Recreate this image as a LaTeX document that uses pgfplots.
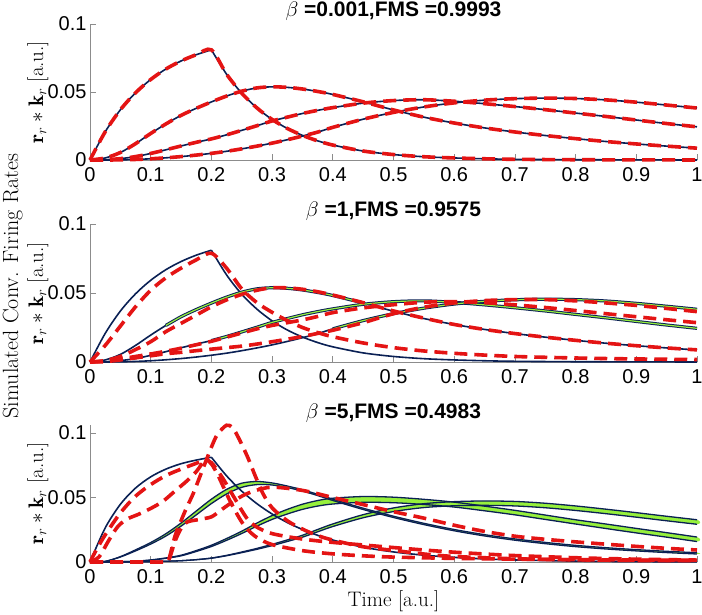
\RequirePackage{fix-cm}
\documentclass[border=0pt]{standalone}
\usepackage{fontspec}
\newfontfamily\helv{Liberation Sans}
\usepackage{pgfplots}
\usepackage{pgfplotstable}
\pgfplotsset{compat=1.18}
\definecolor{axgray}{RGB}{140,140,140}
\definecolor{navy}{RGB}{10,32,84}
\definecolor{rred}{RGB}{228,20,20}
\definecolor{lime}{RGB}{150,240,60}

% ---------- panels 1 and 2: simulated (blue) ----------
\pgfplotstableread{
t v
0 0
0.025 0.0207
0.05 0.0369
0.075 0.0494
0.1 0.0592
0.125 0.0669
0.15 0.0728
0.175 0.0774
0.2 0.0810
0.225 0.0631
0.25 0.0491
0.275 0.0383
0.3 0.0298
0.325 0.0232
0.35 0.0181
0.375 0.0141
0.4 0.0110
0.45 0.0066
0.5 0.0040
0.55 0.0024
0.6 0.0015
0.65 0.0009
0.7 0.0005
0.8 0.0002
0.9 0.0001
1.0 0.0000
}\bOne

\pgfplotstableread{
t b2 b3 b4
0 0 0 0
0.025 0.0015 0.0002 0
0.05 0.0055 0.0010 0.0001
0.075 0.0120 0.0025 0.0004
0.1 0.0195 0.0048 0.0009
0.125 0.0265 0.0075 0.0016
0.15 0.0328 0.0103 0.0025
0.175 0.0380 0.0130 0.0036
0.2 0.0427 0.0155 0.0049
0.225 0.0470 0.0185 0.0064
0.25 0.0506 0.0218 0.0082
0.275 0.0530 0.0252 0.0102
0.3 0.0538 0.0287 0.0124
0.325 0.0534 0.0315 0.0149
0.35 0.0522 0.0342 0.0176
0.375 0.0504 0.0365 0.0205
0.4 0.0482 0.0385 0.0240
0.45 0.0428 0.0418 0.0300
0.5 0.0368 0.0437 0.0350
0.55 0.0315 0.0443 0.0390
0.6 0.0272 0.0432 0.0420
0.65 0.0236 0.0414 0.0440
0.7 0.0206 0.0393 0.0451
0.75 0.0180 0.0370 0.0455
0.8 0.0157 0.0345 0.0452
0.85 0.0136 0.0320 0.0442
0.9 0.0118 0.0294 0.0425
0.95 0.0102 0.0268 0.0404
1.0 0.0087 0.0244 0.0382
}\bMain

% ---------- panel 2: measured (red) ----------
\pgfplotstableread{
t r1 r2 r3 r4
0 0 0 0 0
0.025 0.012 0.001 0.0007 0.0003
0.05 0.026 0.004 0.0022 0.0015
0.075 0.040 0.009 0.0040 0.0030
0.1 0.052 0.0147 0.0058 0.0045
0.125 0.061 0.022 0.0078 0.0060
0.15 0.068 0.028 0.0100 0.0070
0.175 0.074 0.034 0.0125 0.0082
0.2 0.0788 0.040 0.0150 0.0093
0.225 0.068 0.045 0.0180 0.0104
0.25 0.053 0.049 0.0210 0.0115
0.275 0.043 0.052 0.0240 0.0130
0.3 0.036 0.0538 0.0265 0.0147
0.325 0.030 0.0537 0.0285 0.0165
0.35 0.0250 0.0527 0.0305 0.0185
0.375 0.0213 0.0509 0.0330 0.0207
0.4 0.0183 0.0485 0.0358 0.0230
0.45 0.0138 0.0430 0.0392 0.0285
0.5 0.0104 0.0370 0.0415 0.0350
0.55 0.0080 0.0318 0.0433 0.0397
0.6 0.0063 0.0272 0.0438 0.0428
0.65 0.0050 0.0236 0.0430 0.0445
0.7 0.0040 0.0206 0.0414 0.0452
0.75 0.0034 0.0180 0.0395 0.0452
0.8 0.0029 0.0157 0.0373 0.0443
0.85 0.0025 0.0136 0.0350 0.0428
0.9 0.0022 0.0118 0.0328 0.0410
0.95 0.0020 0.0102 0.0306 0.0388
1.0 0.0018 0.0088 0.0285 0.0365
}\pTwoR

% ---------- panel 3: simulated (blue, with bands) ----------
\pgfplotstableread{
t v
0 0
0.025 0.0264
0.05 0.0447
0.075 0.0573
0.1 0.0660
0.125 0.0720
0.15 0.0762
0.175 0.0790
0.2 0.0812
0.225 0.0668
0.25 0.0549
0.275 0.0452
0.3 0.0372
0.325 0.0306
0.35 0.0252
0.375 0.0207
0.4 0.0170
0.45 0.0115
0.5 0.0078
0.55 0.0053
0.6 0.0036
0.65 0.0024
0.7 0.0016
0.8 0.0007
0.9 0.0003
1.0 0.0001
}\pThreeBone

\pgfplotstableread{
t c2lo c2hi c3lo c3hi c4lo c4hi
0 0 0 0 0 0 0
0.025 0.0005 0.0005 0 0 0 0
0.05 0.00385 0.00415 0.0002 0.0002 0 0
0.075 0.0086 0.0094 0.0006 0.0006 0.0001 0.0001
0.1 0.0139 0.0151 0.0014 0.0016 0.0003 0.0003
0.125 0.0201 0.0219 0.00285 0.00315 0.0006 0.0006
0.15 0.0278 0.0302 0.00475 0.00525 0.0010 0.0010
0.175 0.0365 0.0395 0.00815 0.00885 0.0018 0.0018
0.2 0.0453 0.0487 0.0120 0.0130 0.0029 0.0031
0.225 0.0527 0.0563 0.0168 0.0182 0.00485 0.00515
0.25 0.0579 0.0611 0.0221 0.0239 0.00725 0.00775
0.275 0.0600 0.0624 0.0278 0.0302 0.00985 0.01055
0.3 0.0597 0.0613 0.0330 0.0360 0.0127 0.0137
0.325 0.0577 0.0589 0.0372 0.0408 0.0159 0.0171
0.35 0.0550 0.0560 0.0408 0.0448 0.01925 0.02075
0.375 0.0515 0.0525 0.04335 0.04765 0.0234 0.0252
0.4 0.0477 0.0487 0.04495 0.04945 0.0275 0.0295
0.45 0.0407 0.0417 0.04625 0.05075 0.0343 0.0367
0.5 0.0345 0.0355 0.04595 0.05025 0.0391 0.0419
0.55 0.0290 0.0300 0.0446 0.0486 0.0422 0.0452
0.6 0.0242 0.0252 0.0426 0.0464 0.0436 0.0468
0.65 0.0202 0.0212 0.0397 0.0433 0.0439 0.0473
0.7 0.0169 0.0179 0.03655 0.04005 0.04345 0.04695
0.75 0.0142 0.0152 0.0330 0.0364 0.04205 0.04555
0.8 0.0119 0.0129 0.02945 0.03275 0.03995 0.04345
0.85 0.0101 0.0111 0.02595 0.02945 0.03745 0.04095
0.9 0.0086 0.0096 0.02255 0.02605 0.03475 0.03825
0.95 0.0073 0.0083 0.01925 0.02275 0.03195 0.03545
1.0 0.0062 0.0072 0.01585 0.01935 0.02925 0.03275
}\pThreeB

% ---------- panel 3: measured (red) ----------
\pgfplotstableread{
t v
0 0
0.01 0.009
0.025 0.021
0.05 0.038
0.075 0.051
0.1 0.060
0.125 0.067
0.15 0.072
0.175 0.0765
0.19 0.079
0.2 0.077
0.21 0.071
0.22 0.064
0.23 0.056
0.24 0.048
0.25 0.040
0.26 0.033
0.275 0.027
0.3 0.022
0.35 0.0178
0.4 0.0152
0.45 0.0132
0.5 0.0112
0.55 0.0093
0.6 0.0076
0.65 0.0062
0.7 0.0050
0.8 0.0033
0.9 0.0022
1.0 0.0015
}\pThreeRone

\pgfplotstableread{
t v
0 0
0.015 0.004
0.03 0.016
0.045 0.027
0.06 0.033
0.08 0.037
0.1 0.0415
0.12 0.047
0.14 0.055
0.16 0.063
0.175 0.070
0.19 0.079
0.2 0.076
0.21 0.068
0.22 0.058
0.23 0.048
0.24 0.039
0.25 0.031
0.26 0.025
0.275 0.019
0.3 0.0135
0.35 0.0088
0.4 0.0063
0.45 0.0048
0.5 0.0038
0.6 0.0028
0.7 0.0022
0.8 0.0018
0.9 0.0015
1.0 0.0013
}\pThreeRtwo

\pgfplotstableread{
t v
0 0
0.05 0
0.1 0
0.125 0
0.13 0.002
0.14 0.020
0.15 0.032
0.16 0.043
0.17 0.053
0.185 0.071
0.2 0.089
0.21 0.099
0.225 0.106
0.235 0.104
0.245 0.096
0.26 0.081
0.272 0.067
0.285 0.053
0.3 0.042
0.325 0.032
0.35 0.0255
0.375 0.0205
0.4 0.0170
0.45 0.0118
0.5 0.0090
0.55 0.0062
0.6 0.0043
0.7 0.0025
0.8 0.0017
0.9 0.0012
1.0 0.0010
}\pThreeRthree

\pgfplotstableread{
t v
0 0
0.05 0
0.1 0
0.12 0
0.13 0.002
0.14 0.016
0.15 0.026
0.16 0.031
0.18 0.033
0.2 0.035
0.215 0.040
0.23 0.045
0.25 0.051
0.27 0.055
0.3 0.058
0.35 0.0555
0.4 0.0500
0.45 0.0445
0.5 0.0390
0.55 0.0340
0.6 0.0285
0.65 0.0237
0.7 0.0200
0.75 0.0176
0.8 0.0156
0.85 0.0138
0.9 0.0121
0.95 0.0106
1.0 0.0093
}\pThreeRfour

\pgfplotsset{
 panel/.style={
  scale only axis, width=607pt, xmin=0, xmax=1, ymin=0,
  axis lines*=left,
  axis line style={-, draw=axgray, line width=0.8pt},
  tick style={draw=axgray, line width=0.8pt},
  tick align=inside, major tick length=6pt,
  xtick={0,0.1,0.2,0.3,0.4,0.5,0.6,0.7,0.8,0.9,1},
  xticklabels={0,0.1,0.2,0.3,0.4,0.5,0.6,0.7,0.8,0.9,1},
  ytick={0,0.05,0.1}, yticklabels={0,0.05,0.1},
  tick label style={font=\helv\fontsize{20}{20}\selectfont, text=black},
  xticklabel style={yshift=-4pt},
  ylabel={$\mathbf{r}_r\ast\mathbf{k}_r$ [a.u.]},
  every axis y label/.style={at={(axis description cs:-0.0857,0.5)}, rotate=90, anchor=center, font=\fontsize{21}{21}\selectfont},
  every axis title/.style={at={(axis description cs:0.5,1)}, anchor=base, yshift=7pt, font=\helv\bfseries\fontsize{21}{21}\selectfont},
  clip=false,
 },
 bluline/.style={navy, line width=1.6pt, smooth},
 bandedge/.style={navy, line width=1.3pt, smooth},
 bandfill/.style={fill=lime, draw=none, smooth},
 reddash/.style={rred, line width=3.6pt, dash pattern=on 13pt off 7pt, smooth},
}

\begin{document}
\begin{tikzpicture}
\useasboundingbox (0pt,0pt) rectangle (702pt,614pt);

% ================= panel 1 =================
\begin{axis}[panel, at={(90pt,454pt)}, anchor=south west, height=136pt, ymax=0.1,
  title={$\beta$ =0.001,FMS =0.9993}]
\addplot[bluline, restrict x to domain=0:0.2001] table[x=t,y=v]{\bOne};
\addplot[bluline, restrict x to domain=0.1999:1] table[x=t,y=v]{\bOne};
\addplot[bluline] table[x=t,y=b2]{\bMain};
\addplot[bluline] table[x=t,y=b3]{\bMain};
\addplot[bluline] table[x=t,y=b4]{\bMain};
\addplot[reddash] table[x=t,y=v]{\bOne};
\addplot[reddash] table[x=t,y=b2]{\bMain};
\addplot[reddash] table[x=t,y=b3]{\bMain};
\addplot[reddash] table[x=t,y=b4]{\bMain};
\end{axis}

% ================= panel 2 =================
\begin{axis}[panel, at={(90pt,252pt)}, anchor=south west, height=138pt, ymax=0.1,
  title={$\beta$ =1,FMS =0.9575}]
\addplot[bluline, restrict x to domain=0:0.2001] table[x=t,y=v]{\bOne};
\addplot[bluline, restrict x to domain=0.1999:1] table[x=t,y=v]{\bOne};
\addplot[bluline] table[x=t,y=b2]{\bMain};
\addplot[bluline] table[x=t,y=b3]{\bMain};
\addplot[bluline] table[x=t,y=b4]{\bMain};
\addplot[navy, line width=3.2pt, smooth, restrict x to domain=0.12:0.45] table[x=t,y=b2]{\bMain};
\addplot[lime, line width=1.2pt, smooth, restrict x to domain=0.12:0.45] table[x=t,y=b2]{\bMain};
\addplot[navy, line width=3.2pt, smooth, restrict x to domain=0.2:1] table[x=t,y=b3]{\bMain};
\addplot[lime, line width=1.2pt, smooth, restrict x to domain=0.2:1] table[x=t,y=b3]{\bMain};
\addplot[navy, line width=3.2pt, smooth, restrict x to domain=0.4:1] table[x=t,y=b4]{\bMain};
\addplot[lime, line width=1.2pt, smooth, restrict x to domain=0.4:1] table[x=t,y=b4]{\bMain};
\addplot[reddash] table[x=t,y=r1]{\pTwoR};
\addplot[reddash] table[x=t,y=r2]{\pTwoR};
\addplot[reddash] table[x=t,y=r3]{\pTwoR};
\addplot[reddash] table[x=t,y=r4]{\pTwoR};
\end{axis}

% ================= panel 3 =================
\begin{axis}[panel, at={(90pt,52pt)}, anchor=south west, height=137pt, ymax=0.1062,
  title={$\beta$ =5,FMS =0.4983},
  xlabel={Time [a.u.]},
  every axis x label/.style={at={(axis description cs:0.5,0)}, anchor=base, yshift=-44pt, font=\fontsize{21}{21}\selectfont}]
% band of curve 2 (upper bound forward, lower bound back)
\addplot[bandfill] coordinates {(0,0) (0.025,0.0005) (0.05,0.00415) (0.075,0.0094) (0.1,0.0151) (0.125,0.0219) (0.15,0.0302) (0.175,0.0395) (0.2,0.0487) (0.225,0.0563) (0.25,0.0611) (0.275,0.0624) (0.3,0.0613) (0.325,0.0589) (0.35,0.0560) (0.375,0.0525) (0.4,0.0487) (0.45,0.0417) (0.5,0.0355) (0.55,0.0300) (0.6,0.0252) (0.65,0.0212) (0.7,0.0179) (0.75,0.0152) (0.8,0.0129) (0.85,0.0111) (0.9,0.0096) (0.95,0.0083) (1,0.0072)
 (1,0.0062) (0.95,0.0073) (0.9,0.0086) (0.85,0.0101) (0.8,0.0119) (0.75,0.0142) (0.7,0.0169) (0.65,0.0202) (0.6,0.0242) (0.55,0.0290) (0.5,0.0345) (0.45,0.0407) (0.4,0.0477) (0.375,0.0515) (0.35,0.0550) (0.325,0.0577) (0.3,0.0597) (0.275,0.0600) (0.25,0.0579) (0.225,0.0527) (0.2,0.0453) (0.175,0.0365) (0.15,0.0278) (0.125,0.0201) (0.1,0.0139) (0.075,0.0086) (0.05,0.00385) (0.025,0.0005)};
% band of curve 3
\addplot[bandfill] coordinates {(0,0) (0.025,0) (0.05,0.0002) (0.075,0.0006) (0.1,0.0016) (0.125,0.00315) (0.15,0.00525) (0.175,0.00885) (0.2,0.0130) (0.225,0.0182) (0.25,0.0239) (0.275,0.0302) (0.3,0.0360) (0.325,0.0408) (0.35,0.0448) (0.375,0.04765) (0.4,0.04945) (0.45,0.05075) (0.5,0.05025) (0.55,0.0486) (0.6,0.0464) (0.65,0.0433) (0.7,0.04005) (0.75,0.0364) (0.8,0.03275) (0.85,0.02945) (0.9,0.02605) (0.95,0.02275) (1,0.01935)
 (1,0.01585) (0.95,0.01925) (0.9,0.02255) (0.85,0.02595) (0.8,0.02945) (0.75,0.0330) (0.7,0.03655) (0.65,0.0397) (0.6,0.0426) (0.55,0.0446) (0.5,0.04595) (0.45,0.04625) (0.4,0.04495) (0.375,0.04335) (0.35,0.0408) (0.325,0.0372) (0.3,0.0330) (0.275,0.0278) (0.25,0.0221) (0.225,0.0168) (0.2,0.0120) (0.175,0.00815) (0.15,0.00475) (0.125,0.00285) (0.1,0.0014) (0.075,0.0006) (0.05,0.0002) (0.025,0)};
% band of curve 4
\addplot[bandfill] coordinates {(0,0) (0.025,0) (0.05,0) (0.075,0.0001) (0.1,0.0003) (0.125,0.0006) (0.15,0.0010) (0.175,0.0018) (0.2,0.0031) (0.225,0.00515) (0.25,0.00775) (0.275,0.01055) (0.3,0.0137) (0.325,0.0171) (0.35,0.02075) (0.375,0.0252) (0.4,0.0295) (0.45,0.0367) (0.5,0.0419) (0.55,0.0452) (0.6,0.0468) (0.65,0.0473) (0.7,0.04695) (0.75,0.04555) (0.8,0.04345) (0.85,0.04095) (0.9,0.03825) (0.95,0.03545) (1,0.03275)
 (1,0.02925) (0.95,0.03195) (0.9,0.03475) (0.85,0.03745) (0.8,0.03995) (0.75,0.04205) (0.7,0.04345) (0.65,0.0439) (0.6,0.0436) (0.55,0.0422) (0.5,0.0391) (0.45,0.0343) (0.4,0.0275) (0.375,0.0234) (0.35,0.01925) (0.325,0.0159) (0.3,0.0127) (0.275,0.00985) (0.25,0.00725) (0.225,0.00485) (0.2,0.0029) (0.175,0.0018) (0.15,0.0010) (0.125,0.0006) (0.1,0.0003) (0.075,0.0001) (0.05,0) (0.025,0)};
\addplot[bandedge] table[x=t,y=c2lo]{\pThreeB};
\addplot[bandedge] table[x=t,y=c2hi]{\pThreeB};
\addplot[bandedge] table[x=t,y=c3lo]{\pThreeB};
\addplot[bandedge] table[x=t,y=c3hi]{\pThreeB};
\addplot[bandedge] table[x=t,y=c4lo]{\pThreeB};
\addplot[bandedge] table[x=t,y=c4hi]{\pThreeB};
\addplot[bluline, restrict x to domain=0:0.2001] table[x=t,y=v]{\pThreeBone};
\addplot[bluline, restrict x to domain=0.1999:1] table[x=t,y=v]{\pThreeBone};
\addplot[reddash] table[x=t,y=v]{\pThreeRone};
\addplot[reddash] table[x=t,y=v]{\pThreeRtwo};
\addplot[reddash] table[x=t,y=v]{\pThreeRthree};
\addplot[reddash] table[x=t,y=v]{\pThreeRfour};
\end{axis}

\node[rotate=90, anchor=base, font=\fontsize{22}{22}\selectfont] at (18pt,328pt) {Simulated Conv. Firing Rates};
\end{tikzpicture}
\end{document}
